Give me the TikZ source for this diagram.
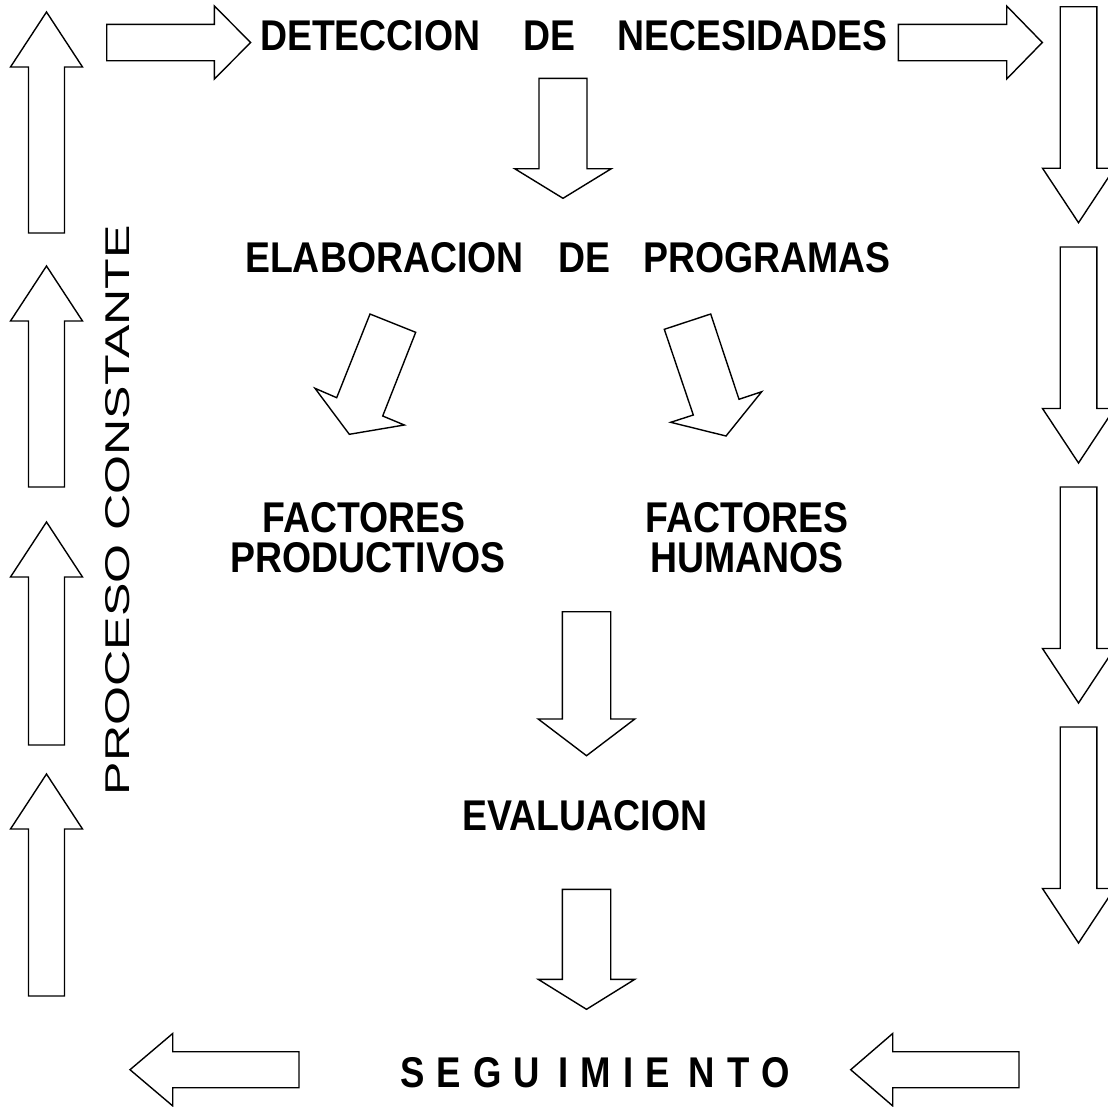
\documentclass[tikz,border=0pt]{standalone}
\usepackage{fontspec}
\setmainfont{Liberation Sans}
\usetikzlibrary{calc}
\newcommand\blockarrow[6]{% shift, angle, length, shaft half, head half, head length
  \draw[blk,shift={#1},rotate=#2] (0,-#4) -- ({#3-#6},-#4) -- ({#3-#6},-#5) -- (#3,0) -- ({#3-#6},#5) -- ({#3-#6},#4) -- (0,#4) -- cycle;}
\begin{document}
\begin{tikzpicture}[x=1pt,y=-1pt,
  blk/.style={draw=black,line width=1.4pt,line join=miter,fill=white},
  lbl/.style={font=\bfseries\fontsize{43}{47}\selectfont,inner sep=0pt,anchor=base},
  side/.style={font=\fontsize{33}{36}\selectfont,inner sep=0pt}]
\useasboundingbox (0,0) rectangle (1108,1106);
% left column (up)
\blockarrow{(46.5,233)}{90}{221}{18}{36}{55}
\blockarrow{(46.5,487)}{90}{221}{18}{36}{55}
\blockarrow{(46.5,745)}{90}{223}{18}{36}{55}
\blockarrow{(46.5,996)}{90}{222}{18}{36}{55}
% top row (right)
\blockarrow{(106.7,42.5)}{0}{144}{18.2}{36.5}{36.4}
\blockarrow{(898.3,42.5)}{0}{144}{18.2}{36.5}{35.6}
% right column (down)
\blockarrow{(1078.5,6.7)}{-90}{216}{18.3}{36}{54.5}
\blockarrow{(1078.5,247)}{-90}{216}{18.3}{36}{54.5}
\blockarrow{(1078.5,487)}{-90}{216}{18.3}{36}{54.5}
\blockarrow{(1078.5,727)}{-90}{216}{18.3}{36}{54.5}
% bottom row (left)
\blockarrow{(299,1069.7)}{180}{169}{18}{36.2}{42.7}
\blockarrow{(1019,1069.7)}{180}{168.3}{18}{36.2}{42}
% centre arrows
\blockarrow{(563,78.3)}{-90}{120}{24}{48.3}{29.6}
\blockarrow{(586.5,611.7)}{-90}{144}{24.2}{48.3}{36.7}
\blockarrow{(586.5,889.3)}{-90}{120}{24.2}{48.3}{30}
% diagonal arrows
\draw[blk] (370,314) -- (415.7,332.3) -- (382.7,416) -- (404.3,425) -- (349.3,434.3) -- (315,388.3) -- (336.7,397.7) -- cycle;
\draw[blk] (664.3,329.3) -- (710.7,314) -- (739,399.3) -- (761.7,391.7) -- (726,436) -- (670.7,422.3) -- (693.3,415) -- cycle;
% texts
\node[lbl] (detec) at (574,50) {\scalebox{0.87}[1]{DETECCION\hspace{50pt}DE\hspace{48pt}NECESIDADES}};
\node[lbl] (elab) at (568,272) {\scalebox{0.87}[1]{ELABORACION\hspace{40pt}DE\hspace{38pt}PROGRAMAS}};
\node[lbl] (fp1) at (364,532) {\scalebox{0.87}[1]{FACTORES}};
\node[lbl] (fp2) at (368,572) {\scalebox{0.87}[1]{PRODUCTIVOS}};
\node[lbl] (fh1) at (747,532) {\scalebox{0.87}[1]{FACTORES}};
\node[lbl] (fh2) at (747,572) {\scalebox{0.87}[1]{HUMANOS}};
\node[lbl] (eval) at (585,830) {\scalebox{0.87}[1]{EVALUACION}};
\node[lbl] (seg) at (595,1087) {\scalebox{0.85}[1]{S\,\,E\,\,G\,\,U\,\,\,I\,\,M\,\,I\,\,E\,\,\,N\,\,T\,\,O}};
\node[side,rotate=90] (proc) at (118,510) {\resizebox{570pt}{24pt}{PROCESO CONSTANTE}};
\end{tikzpicture}
\end{document}
